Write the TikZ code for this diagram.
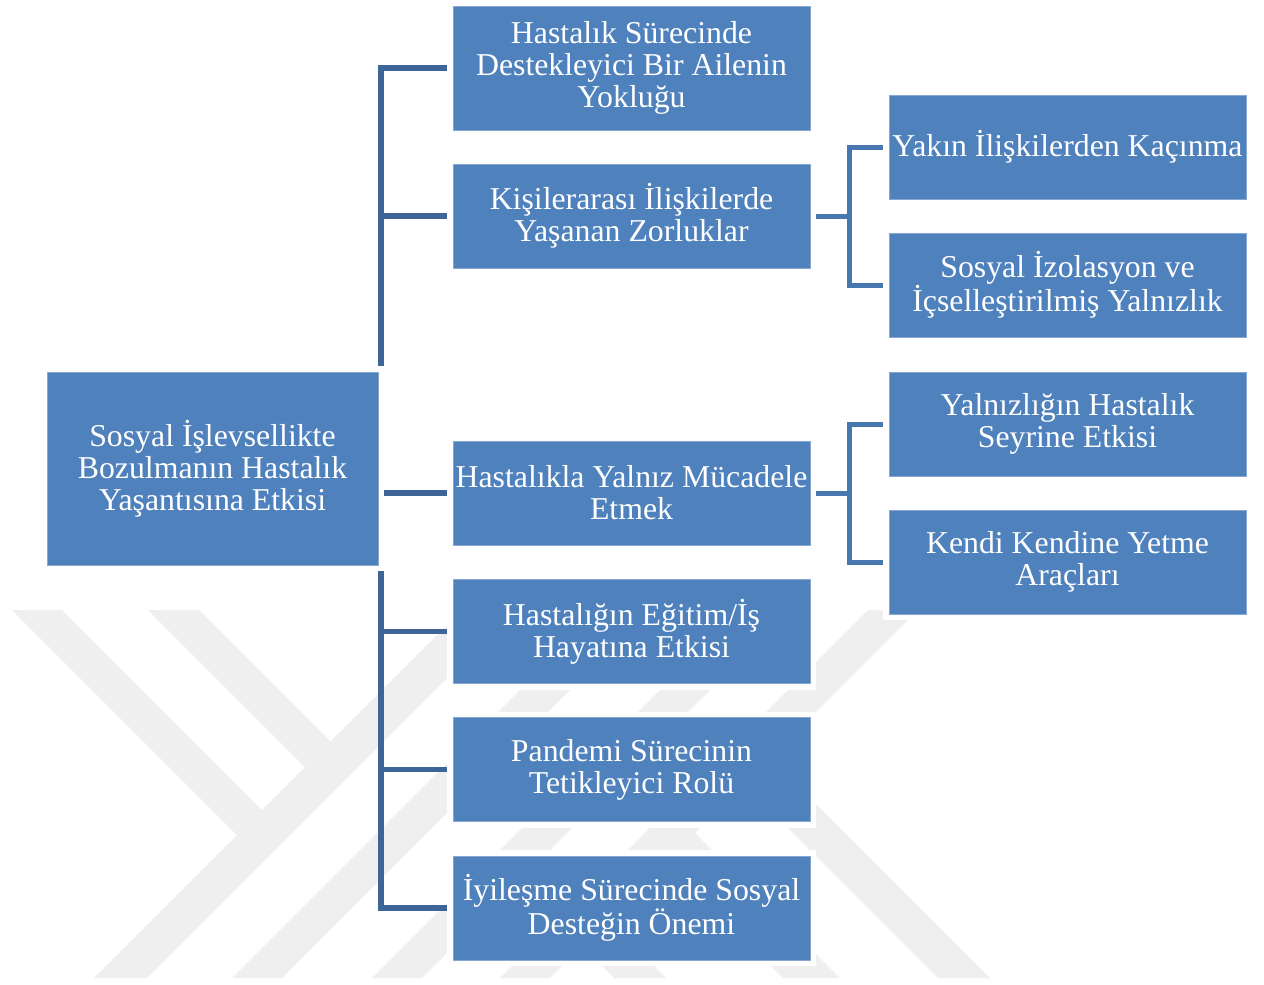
\documentclass[tikz,border=0pt]{standalone}
\usepackage{fontspec}
\setmainfont{Liberation Serif}
\definecolor{boxblue}{RGB}{79,129,189}
\definecolor{boxedge}{RGB}{135,166,208}
\definecolor{lineA}{RGB}{62,101,151}
\definecolor{lineB}{RGB}{72,118,176}
\definecolor{wmgray}{RGB}{239,239,239}
\pgfdeclarelayer{wmk}
\pgfdeclarelayer{bg}
\pgfsetlayers{wmk,bg,main}
\begin{document}
\begin{tikzpicture}[x=1pt,y=-1pt,
  box/.style={rectangle, fill=boxblue, draw=boxedge, line width=0.8pt,
    text=white, align=center, inner sep=0pt,
    minimum width=357pt, minimum height=104pt,
    font=\fontsize{31.8}{32}\selectfont,
    preaction={draw=white, line width=12pt}},
  conn1/.style={draw=lineA, line width=5.5pt},
  conn2/.style={draw=lineB, line width=5pt},
  wm/.style={fill=wmgray}]
\useasboundingbox (0,0) rectangle (1264,985);

% nodes
\node[box, minimum width=331pt, minimum height=193pt] (root) at (212.5,468.5)
  {Sosyal İşlevsellikte\\Bozulmanın Hastalık\\Yaşantısına Etkisi};
\node[box, minimum height=124pt] (b1) at (631.5,68)
  {Hastalık Sürecinde\\Destekleyici Bir Ailenin\\Yokluğu};
\node[box] (b2) at (631.5,216) {Kişilerarası İlişkilerde\\Yaşanan Zorluklar};
\node[box] (b3) at (631.5,493) {Hastalıkla Yalnız Mücadele\\Etmek};
\node[box] (b4) at (631.5,631.5) {Hastalığın Eğitim/İş\\Hayatına Etkisi};
\node[box] (b5) at (631.5,769.5) {Pandemi Sürecinin\\Tetikleyici Rolü};
\node[box] (b6) at (631.5,908) {İyileşme Sürecinde Sosyal\\Desteğin Önemi};
\node[box] (c1) at (1067.5,147) {Yakın İlişkilerden Kaçınma};
\node[box] (c2) at (1067.5,285) {Sosyal İzolasyon ve\\İçselleştirilmiş Yalnızlık};
\node[box] (c3) at (1067.5,424) {Yalnızlığın Hastalık\\Seyrine Etkisi};
\node[box] (c4) at (1067.5,562) {Kendi Kendine Yetme\\Araçları};

% watermark
\begin{pgfonlayer}{wmk}
\fill[white] (0,0) rectangle (1264,985);
\fill[wm] (94,978) -- (147,978) -- (515,610) -- (462,610) -- cycle;
\fill[wm] (232,978) -- (282,978) -- (650,610) -- (600,610) -- cycle;
\fill[wm] (372,978) -- (422,978) -- (790,610) -- (740,610) -- cycle;
\fill[wm] (500,978) -- (550,978) -- (918,610) -- (868,610) -- cycle;
\fill[wm] (12,610) -- (62,610) -- (262,810) -- (237,835) -- cycle;
\fill[wm] (148,610) -- (199,610) -- (330.5,741.5) -- (305,767) -- cycle;
\fill[wm] (744,784) -- (770,758) -- (990,978) -- (938,978) -- cycle;
\fill[wm] (641.5,836.5) -- (670,808) -- (840,978) -- (783,978) -- cycle;
\fill[wm] (558,920) -- (584,894) -- (666,978) -- (614,978) -- cycle;
\end{pgfonlayer}

% connectors
\begin{pgfonlayer}{bg}
\coordinate (tr) at (381,0);
\coordinate (s) at (849.5,0);
\draw[conn1] (b1.west) -- (b1.west -| tr) -- (b6.west -| tr) -- (b6.west);
\draw[conn1] (root.east) -- (root.east -| tr);
\draw[conn1] (b2.west -| tr) -- (b2.west);
\draw[conn1] (b3.west -| tr) -- (b3.west);
\draw[conn1] (b4.west -| tr) -- (b4.west);
\draw[conn1] (b5.west -| tr) -- (b5.west);
\draw[conn2] (b2.east) -- (b2.east -| s);
\draw[conn2] (c1.west) -- (c1.west -| s) -- (c2.west -| s) -- (c2.west);
\draw[conn2] (b3.east) -- (b3.east -| s);
\draw[conn2] (c3.west) -- (c3.west -| s) -- (c4.west -| s) -- (c4.west);
\end{pgfonlayer}
\end{tikzpicture}
\end{document}
